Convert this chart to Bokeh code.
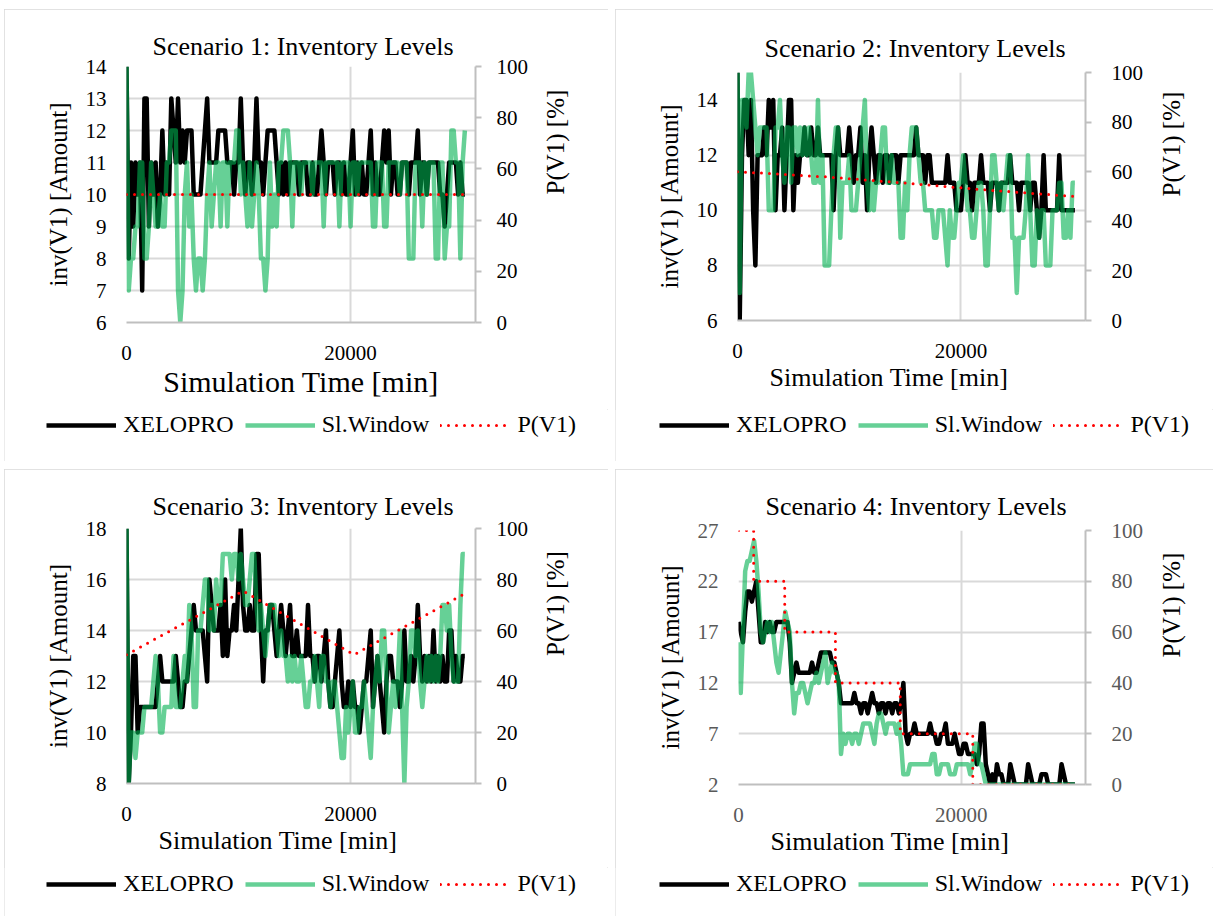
import math
from bokeh.plotting import figure
from bokeh.models import Range1d, LinearAxis, FixedTicker, Legend, LegendItem, Title, Spacer
from bokeh.layouts import row, column
from bokeh.embed import file_html
from bokeh.resources import INLINE

FONT = "Liberation Serif"

# ---------------- data ----------------
SAMPLE_MIN = 200
TIME = list(range(0, 30400, SAMPLE_MIN))          # 0 .. 30200 min, 152 samples
X_MAX = 31150
X_TICKS = [0, 20000]
P_TICKS = [0, 20, 40, 60, 80, 100]

TITLES = ["Scenario 1: Inventory Levels", "Scenario 2: Inventory Levels",
          "Scenario 3: Inventory Levels", "Scenario 4: Inventory Levels"]
X_LABEL = "Simulation Time [min]"
Y_LABEL = "inv(V1) [Amount]"
Y2_LABEL = "P(V1) [%]"
SERIES_NAMES = ["XELOPRO", "Sl.Window", "P(V1)"]

Y_LIMITS = [(6, 14), (6, 15), (8, 18), (2, 27)]
Y_TICKS = [[6, 7, 8, 9, 10, 11, 12, 13, 14], [6, 8, 10, 12, 14],
           [8, 10, 12, 14, 16, 18], [2, 7, 12, 17, 22, 27]]

S1_XELOPRO = [14, 8, 11, 9, 11, 10, 11, 7, 13, 13,
              9, 11, 10, 11, 9, 10, 12, 10, 11, 10,
              13, 12, 11, 13, 11, 12, 11, 12, 12, 12,
              10, 10, 10, 10, 11, 12, 13, 11, 11, 11,
              11, 12, 12, 12, 12, 11, 11, 11, 10, 11,
              11, 13, 11, 10, 11, 11, 10, 11, 13, 11,
              11, 10, 11, 12, 12, 12, 12, 11, 10, 11,
              10, 11, 10, 11, 11, 11, 11, 10, 11, 11,
              11, 10, 10, 11, 10, 10, 11, 12, 11, 10,
              11, 11, 11, 10, 11, 11, 10, 11, 10, 10,
              11, 12, 10, 11, 10, 11, 10, 10, 11, 12,
              10, 11, 10, 10, 11, 12, 11, 12, 10, 11,
              11, 10, 10, 11, 11, 11, 10, 11, 11, 11,
              12, 10, 11, 11, 10, 11, 11, 11, 11, 11,
              10, 10, 9, 10, 11, 11, 11, 11, 10, 11,
              10, 10]
S1_SLWINDOW = [14, 7, 8, 8, 9, 9, 11, 11, 8, 8,
               9, 11, 10, 9, 9, 10, 9, 9, 11, 11,
               12, 12, 12, 7, 6, 7, 10, 11, 9, 10,
               8, 7, 8, 8, 7, 8, 10, 11, 9, 10,
               11, 11, 9, 11, 11, 9, 11, 11, 11, 12,
               12, 10, 11, 10, 9, 11, 9, 10, 11, 10,
               8, 8, 7, 8, 11, 9, 10, 9, 11, 11,
               12, 12, 12, 11, 9, 11, 11, 11, 10, 11,
               11, 11, 11, 10, 11, 11, 11, 11, 9, 11,
               11, 11, 11, 11, 11, 9, 11, 11, 11, 11,
               9, 11, 11, 10, 11, 11, 11, 11, 11, 11,
               9, 9, 11, 11, 11, 9, 9, 11, 11, 11,
               11, 11, 10, 11, 11, 11, 8, 8, 8, 11,
               11, 11, 9, 11, 10, 11, 11, 11, 8, 8,
               11, 11, 8, 9, 9, 12, 12, 11, 11, 8,
               11, 12]
S1_P_TIME = [0, 30200]
S1_P_VALUE = [50, 50]

S2_XELOPRO = [15, 6, 12, 14, 14, 12, 14, 10, 8, 12,
              12, 12, 13, 12, 14, 13, 14, 10, 12, 12,
              13, 10, 12, 14, 14, 10, 12, 11, 12, 12,
              13, 12, 12, 13, 12, 12, 13, 12, 12, 12,
              12, 12, 12, 10, 12, 13, 12, 12, 12, 12,
              13, 12, 11, 12, 12, 13, 11, 12, 10, 12,
              13, 12, 11, 12, 12, 11, 12, 12, 11, 12,
              12, 12, 11, 12, 12, 12, 12, 12, 12, 12,
              13, 12, 12, 12, 11, 12, 12, 11, 11, 11,
              11, 11, 11, 11, 12, 11, 11, 11, 10, 10,
              10, 11, 12, 11, 11, 10, 11, 11, 11, 12,
              11, 11, 11, 10, 11, 11, 11, 10, 11, 11,
              11, 11, 12, 11, 11, 11, 10, 11, 11, 11,
              11, 10, 11, 11, 10, 9, 10, 12, 10, 10,
              10, 10, 10, 10, 12, 10, 10, 10, 10, 10,
              10, 10]
S2_SLWINDOW = [15, 7, 14, 14, 13, 15, 15, 14, 13, 12,
               13, 13, 13, 13, 10, 10, 10, 13, 13, 14,
               12, 11, 13, 13, 11, 13, 13, 12, 13, 12,
               13, 12, 13, 12, 11, 11, 14, 11, 12, 8,
               8, 8, 10, 12, 13, 13, 9, 11, 11, 11,
               12, 10, 10, 10, 11, 12, 13, 14, 11, 10,
               11, 10, 11, 11, 12, 13, 13, 11, 11, 12,
               11, 11, 11, 9, 9, 11, 10, 12, 13, 13,
               13, 12, 11, 11, 10, 10, 10, 10, 9, 9,
               10, 10, 10, 9, 8, 10, 9, 9, 10, 11,
               11, 12, 11, 10, 10, 9, 9, 10, 11, 11,
               10, 8, 8, 10, 12, 12, 11, 10, 11, 10,
               11, 12, 12, 9, 9, 7, 9, 9, 9, 10,
               12, 10, 8, 8, 10, 9, 10, 10, 8, 8,
               8, 10, 10, 10, 11, 11, 9, 9, 10, 9,
               11, 11]
S2_P_TIME = [0, 8300, 15000, 22400, 30200]
S2_P_VALUE = [60, 57.8, 55.4, 52.6, 50]

S3_XELOPRO = [18, 8, 10, 13, 13, 10, 11, 11, 11, 11,
              11, 11, 11, 11, 12, 13, 12, 12, 12, 12,
              12, 12, 13, 12, 11, 11, 12, 12, 13, 14,
              15, 14, 14, 14, 14, 13, 12, 16, 15, 14,
              14, 14, 15, 13, 16, 13, 14, 14, 15, 14,
              16, 18, 15, 14, 14, 15, 14, 14, 17, 17,
              14, 12, 14, 14, 15, 15, 14, 13, 14, 15,
              14, 13, 14, 15, 13, 13, 14, 13, 13, 13,
              13, 15, 13, 13, 12, 13, 13, 12, 13, 14,
              12, 11, 11, 12, 13, 14, 12, 11, 11, 12,
              11, 12, 11, 11, 10, 11, 12, 12, 13, 14,
              11, 12, 13, 12, 11, 10, 12, 13, 13, 12,
              12, 12, 11, 12, 14, 12, 12, 13, 12, 13,
              15, 13, 12, 13, 12, 13, 12, 14, 12, 13,
              12, 13, 12, 12, 14, 14, 12, 13, 12, 12,
              13, 13]
S3_SLWINDOW = [18, 8, 10, 10, 9, 10, 10, 10, 11, 11,
               11, 11, 12, 13, 12, 10, 10, 11, 11, 11,
               11, 13, 11, 11, 11, 12, 13, 12, 15, 14,
               11, 11, 14, 14, 15, 16, 16, 14, 15, 14,
               16, 15, 15, 17, 17, 17, 17, 16, 17, 17,
               16, 17, 16, 15, 15, 16, 17, 17, 15, 14,
               15, 14, 13, 14, 15, 15, 15, 14, 13, 14,
               13, 13, 12, 13, 12, 13, 12, 12, 13, 12,
               11, 11, 12, 12, 13, 12, 11, 13, 13, 12,
               12, 11, 12, 12, 11, 10, 9, 9, 11, 10,
               11, 12, 10, 10, 11, 11, 12, 11, 10, 9,
               11, 12, 13, 12, 14, 14, 12, 10, 11, 12,
               11, 12, 14, 11, 8, 11, 12, 14, 14, 13,
               14, 12, 11, 12, 13, 12, 13, 12, 13, 12,
               13, 15, 15, 14, 15, 13, 12, 12, 12, 15,
               17, 17]
S3_P_TIME = [0, 10400, 20300, 30200]
S3_P_VALUE = [50.5, 75.5, 50.5, 74.5]

S4_XELOPRO = [18, 17, 16, 19, 21, 21, 20, 21, 22, 19,
              16, 16, 18, 17, 18, 17, 17, 18, 18, 18,
              18, 18, 18, 16, 12, 13, 14, 13, 13, 13,
              13, 13, 13, 14, 13, 13, 14, 15, 15, 15,
              15, 15, 14, 14, 13, 12, 10, 10, 10, 10,
              10, 10, 11, 10, 10, 9, 10, 10, 9, 10,
              11, 10, 10, 9, 10, 10, 9, 10, 10, 9,
              10, 10, 9, 10, 12, 7, 6, 7, 7, 8,
              7, 7, 7, 7, 7, 7, 8, 7, 7, 6,
              6, 7, 7, 8, 6, 6, 6, 7, 6, 5,
              5, 6, 6, 5, 5, 5, 5, 4, 5, 8,
              8, 4, 3, 2, 3, 2, 4, 3, 3, 2,
              2, 2, 4, 3, 2, 2, 2, 2, 2, 2,
              4, 3, 2, 2, 2, 2, 3, 3, 3, 2,
              2, 2, 2, 2, 2, 4, 3, 2, 2, 2,
              2, 2]
S4_SLWINDOW = [16, 11, 17, 23, 24, 24, 25, 26, 24, 21,
               17, 16, 17, 18, 17, 18, 16, 14, 13, 15,
               17, 19, 18, 17, 12, 9, 11, 11, 12, 12,
               11, 10, 11, 12, 12, 13, 12, 13, 14, 15,
               12, 13, 14, 13, 13, 12, 5, 7, 6, 7,
               7, 6, 7, 7, 6, 7, 8, 8, 8, 8,
               7, 6, 8, 9, 9, 8, 7, 8, 8, 8,
               8, 7, 8, 6, 3, 3, 3, 4, 4, 4,
               4, 4, 4, 4, 4, 4, 4, 5, 5, 3,
               3, 4, 4, 4, 4, 3, 3, 3, 4, 4,
               4, 4, 4, 4, 3, 4, 6, 6, 4, 4,
               3, 2, 2, 2, 2, 2, 2, 2, 2, 2,
               2, 2, 2, 2, 2, 2, 2, 2, 2, 2,
               2, 2, 2, 2, 2, 2, 2, 2, 2, 2,
               2, 2, 2, 2, 2, 2, 2, 2, 2, 2,
               2, 2]
S4_P_TIME = [0, 1360, 1360, 4150, 4150, 8700, 8700, 14520, 14520, 21030, 21030, 30300]
S4_P_VALUE = [100, 100, 80, 80, 60, 60, 40, 40, 20, 20, 0, 0]

XELOPRO = [S1_XELOPRO, S2_XELOPRO, S3_XELOPRO, S4_XELOPRO]
SLWINDOW = [S1_SLWINDOW, S2_SLWINDOW, S3_SLWINDOW, S4_SLWINDOW]
P_TIME = [S1_P_TIME, S2_P_TIME, S3_P_TIME, S4_P_TIME]
P_VALUE = [S1_P_VALUE, S2_P_VALUE, S3_P_VALUE, S4_P_VALUE]

# ---------------- style / layout ----------------
BLACK = "#000000"
GREEN = "#00B050"
RED = "#FF0000"
GRID = "#D9D9D9"
AXIS = "#BFBFBF"

PANELS = [
    dict(w=604, h=400, mb=(122, 133, 57, 87), tstand=11, toff=26, xfs="30px", xalign="center", xoff=0,
         rstand=15, r2stand=24, lh=52, leg=(42, 23), tick="#000000"),
    dict(w=598, h=400, mb=(122, 128, 63, 89), tstand=19, toff=27, xfs="26px", xalign="left", xoff=32,
         rstand=20, r2stand=25, lh=52, leg=(44, 23), tick="#000000"),
    dict(w=604, h=398, mb=(122, 133, 59, 84), tstand=16, toff=26, xfs="26px", xalign="left", xoff=32,
         rstand=15, r2stand=24, lh=49, leg=(42, 19), tick="#000000"),
    dict(w=598, h=398, mb=(123, 128, 61, 83), tstand=19, toff=27, xfs="26px", xalign="left", xoff=32,
         rstand=20, r2stand=25, lh=49, leg=(44, 19), tick="#595959"),
]

LINE_STYLES = [
    dict(line_color=BLACK, line_width=4.5, line_join="round"),
    dict(line_color=GREEN, line_alpha=0.6, line_width=4.5, line_join="round"),
    dict(line_color=RED, line_width=3, line_dash="0 8", line_cap="round"),
]


def build(i):
    cfg = PANELS[i]
    ylo, yhi = Y_LIMITS[i]
    p = figure(width=cfg["w"], height=cfg["h"], x_range=Range1d(0, X_MAX), y_range=Range1d(ylo, yhi),
               output_backend="svg", toolbar_location=None, tools="",
               min_border_left=cfg["mb"][0], min_border_right=cfg["mb"][1],
               min_border_top=cfg["mb"][2], min_border_bottom=cfg["mb"][3],
               title=TITLES[i])
    p.frame_align = False
    p.outline_line_color = None
    p.background_fill_color = "white"
    p.border_fill_color = "white"

    p.title.text_font = FONT
    p.title.text_font_size = "26px"
    p.title.text_font_style = "normal"
    p.title.text_color = "#000000"
    p.title.align = "left"
    p.title.standoff = cfg["tstand"]
    p.title.offset = cfg["toff"]

    p.extra_y_ranges = {"pct": Range1d(0, 100)}

    # grids
    p.xgrid.ticker = FixedTicker(ticks=X_TICKS)
    p.ygrid.ticker = FixedTicker(ticks=Y_TICKS[i])
    for g in (p.xgrid[0], p.ygrid[0]):
        g.grid_line_color = GRID
        g.grid_line_width = 2

    # bottom axis
    xa = p.xaxis[0]
    xa.ticker = FixedTicker(ticks=X_TICKS)
    xa.axis_line_color = AXIS
    xa.axis_line_width = 2
    xa.major_tick_line_color = None
    xa.minor_tick_line_color = None
    xa.major_tick_out = 0
    xa.major_tick_in = 0
    xa.major_label_standoff = 23
    xa.major_label_text_font = FONT
    xa.major_label_text_font_size = "21px"
    xa.major_label_text_color = cfg["tick"]

    # left axis
    ya = p.yaxis[0]
    ya.ticker = FixedTicker(ticks=Y_TICKS[i])
    ya.axis_line_color = None
    ya.major_tick_line_color = None
    ya.minor_tick_line_color = None
    ya.major_tick_out = 0
    ya.major_tick_in = 0
    ya.major_label_standoff = 20
    ya.major_label_text_font = FONT
    ya.major_label_text_font_size = "21px"
    ya.major_label_text_color = cfg["tick"]
    ya.axis_label = Y_LABEL
    ya.axis_label_text_font = FONT
    ya.axis_label_text_font_size = "25px"
    ya.axis_label_text_font_style = "normal"
    ya.axis_label_text_color = "#000000"
    ya.axis_label_standoff = 11

    # right axis
    ra = LinearAxis(y_range_name="pct", ticker=FixedTicker(ticks=P_TICKS))
    ra.axis_line_color = AXIS
    ra.axis_line_width = 2
    ra.major_tick_line_color = AXIS
    ra.major_tick_line_width = 2
    ra.major_tick_out = 6
    ra.major_tick_in = 0
    ra.minor_tick_line_color = None
    ra.major_label_standoff = cfg["rstand"]
    ra.major_label_text_font = FONT
    ra.major_label_text_font_size = "21px"
    ra.major_label_text_color = cfg["tick"]
    ra.axis_label = Y2_LABEL
    ra.axis_label_text_font = FONT
    ra.axis_label_text_font_size = "25px"
    ra.axis_label_text_font_style = "normal"
    ra.axis_label_text_color = "#000000"
    ra.axis_label_standoff = cfg["r2stand"]
    ra.axis_label_orientation = math.pi / 2
    p.add_layout(ra, "right")

    # x axis title
    xt = Title(text=X_LABEL, align=cfg["xalign"], offset=cfg["xoff"], standoff=0,
               text_font=FONT, text_font_size=cfg["xfs"], text_font_style="normal",
               text_color="#000000")
    p.add_layout(xt, "below")

    p.line(TIME, XELOPRO[i], **LINE_STYLES[0])
    p.line(TIME, SLWINDOW[i], **LINE_STYLES[1])
    p.line(P_TIME[i], P_VALUE[i], y_range_name="pct", **LINE_STYLES[2])

    # legend strip (own small canvas, frame = whole strip, so nothing gets clipped)
    lf = figure(width=cfg["w"], height=cfg["lh"], x_range=Range1d(0, 1), y_range=Range1d(0, 1),
                output_backend="svg", toolbar_location=None, tools="",
                x_axis_type=None, y_axis_type=None,
                min_border_left=0, min_border_right=0, min_border_top=0, min_border_bottom=0)
    lf.frame_align = False
    lf.outline_line_color = None
    lf.background_fill_color = "white"
    lf.border_fill_color = "white"
    # legend-only stand-ins, drawn outside the strip's visible range
    dummies = [lf.line(x=[0, 1], y=[-5, -5], **st) for st in LINE_STYLES]
    leg = Legend(items=[LegendItem(label=SERIES_NAMES[k], renderers=[dummies[k]]) for k in range(3)],
                 orientation="horizontal", location=cfg["leg"],
                 glyph_width=70, glyph_height=24, label_height=24, label_standoff=7, spacing=11,
                 padding=0, margin=0, border_line_color=None, background_fill_alpha=0,
                 label_text_font=FONT, label_text_font_size="24px", label_text_color="#000000",
                 label_text_baseline="middle")
    lf.add_layout(leg, "center")

    panel = column(p, lf, spacing=0)
    panel.styles = {"outline": "1px solid #D9D9D9", "outline-offset": "-1px"}
    return panel


panels = [build(k) for k in range(4)]
top = row(Spacer(width=4), panels[0], Spacer(width=7), panels[1], spacing=0)
bottom = row(Spacer(width=4), panels[2], Spacer(width=7), panels[3], spacing=0)
layout = column(Spacer(height=9), top, Spacer(height=8), bottom, spacing=0)

open("out.html", "w").write(file_html(layout, INLINE))
